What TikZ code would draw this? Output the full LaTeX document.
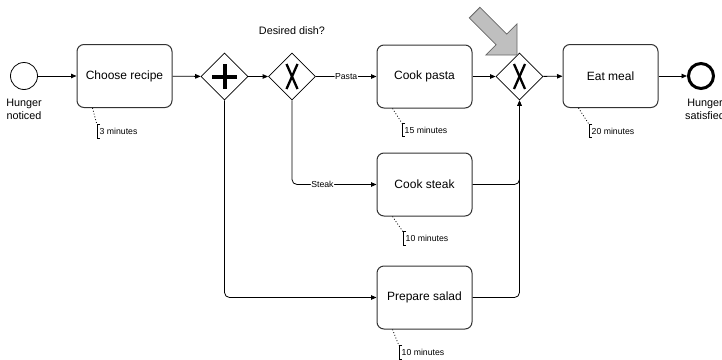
\documentclass[tikz,border=0pt]{standalone}
\usepackage{fontspec}
\setmainfont{Liberation Sans}
\usetikzlibrary{shapes.geometric,arrows.meta,calc}

\begin{document}
\begin{tikzpicture}[x=1pt,y=-1pt,
  task/.style={draw=black!80,line width=1pt,rounded corners=7pt,
    minimum width=95pt,minimum height=63pt,inner sep=0pt,
    font=\fontsize{12}{14}\selectfont},
  gate/.style={draw,diamond,line width=0.8pt,minimum width=47pt,
    minimum height=47pt,inner sep=0pt},
  startev/.style={draw,circle,line width=0.8pt,minimum size=27pt,inner sep=0pt},
  endev/.style={draw,circle,line width=3pt,minimum size=25pt,inner sep=0pt},
  flow/.style={line width=0.8pt,rounded corners=5pt,
    -{Triangle[length=5.5pt,width=4.5pt]}},
  lbl/.style={font=\fontsize{10.8}{12.5}\selectfont,align=center,inner sep=0pt},
  flowlbl/.style={font=\fontsize{8.7}{10}\selectfont,fill=white,inner sep=0.5pt},
  note/.style={font=\fontsize{8.7}{10}\selectfont,anchor=west,minimum height=13pt,
    inner ysep=0pt,inner xsep=2.5pt},
  bracket/.style={line width=0.8pt},
  assoc/.style={line width=0.8pt,dash pattern=on 0.9pt off 2pt},
  plusmark/.style={line width=4pt},
  xmark/.style={line width=2.3pt},
  pointer/.style={fill=black!25,draw=black!60,line width=0.8pt,line join=miter}
]
\clip (0,0) rectangle (722,359);

% events, tasks and gateways
\node[startev] (start) at (24,76) {};
\node[lbl,anchor=north] (startlbl) at (24,99) {Hunger\\noticed};
\node[task] (recipe) at (124.5,76) {Choose recipe};
\node[gate] (pg) at (224.5,76.5) {};
\node[gate] (xg) at (292,76.5) {};
\node[lbl] (question) at (292,31) {Desired dish?};
\node[task] (pasta) at (424.5,76.5) {Cook pasta};
\node[task] (steak) at (424.5,184.5) {Cook steak};
\node[task] (salad) at (424.5,297.5) {Prepare salad};
\node[gate] (xm) at (519.5,76.5) {};
\node[task] (eat) at (610.5,76) {Eat meal};
\node[endev] (end) at (701,76) {};
\node[lbl,anchor=north] (endlbl) at (705,99) {Hunger\\satisfied};

% gateway markers
\draw[plusmark] ($(pg.center)+(-12.5,0)$) -- ($(pg.center)+(12.5,0)$);
\draw[plusmark] ($(pg.center)+(0,-12.5)$) -- ($(pg.center)+(0,12.5)$);
\foreach \g in {xg,xm}{
  \draw[xmark] ($(\g.center)+(-5.5,-12.5)$) -- ($(\g.center)+(5.5,12.5)$);
  \draw[xmark] ($(\g.center)+(-5.5,12.5)$) -- ($(\g.center)+(5.5,-12.5)$);
}

% sequence flows
\draw[flow] (start) -- (recipe);
\draw[flow] (recipe) -- (pg);
\draw[flow] (pg) -- (xg);
\draw[flow] (xg) -- node[flowlbl] {Pasta} (pasta);
\draw[flow] (xg.south) |- node[flowlbl,pos=0.68] {Steak} (steak.west);
\draw[flow] (pg.south) |- (salad.west);
\draw[flow] (pasta) -- (xm);
\draw[flow] (steak.east) -| (xm.south);
\draw[flow] (salad.east) -| (xm.south);
\draw[flow] (xm) -- (eat);
\draw[flow] (eat) -- (end);

% duration annotations
\foreach \t/\n/\pos/\txt in {recipe/n1/{(97,131.5)}/3 minutes,
                              pasta/n2/{(402,130)}/15 minutes,
                              steak/n3/{(403,238.5)}/10 minutes,
                              salad/n4/{(399,352.5)}/10 minutes,
                              eat/n5/{(589,131)}/20 minutes}{
  \node[note] (\n) at \pos {\txt};
  \draw[bracket] ([xshift=3pt]\n.north west) -- (\n.north west)
    -- (\n.south west) -- ([xshift=3pt]\n.south west);
  \draw[assoc] ([xshift=16pt]\t.south west) -- (\n.north west);
}

% highlight pointer at the merging gateway
\draw[pointer] (517,55) -- (517,23.9) -- (506.7,34.1) -- (479.9,7.3)
  -- (469.3,17.9) -- (496.1,44.7) -- (485.9,55) -- cycle;
\end{tikzpicture}
\end{document}
